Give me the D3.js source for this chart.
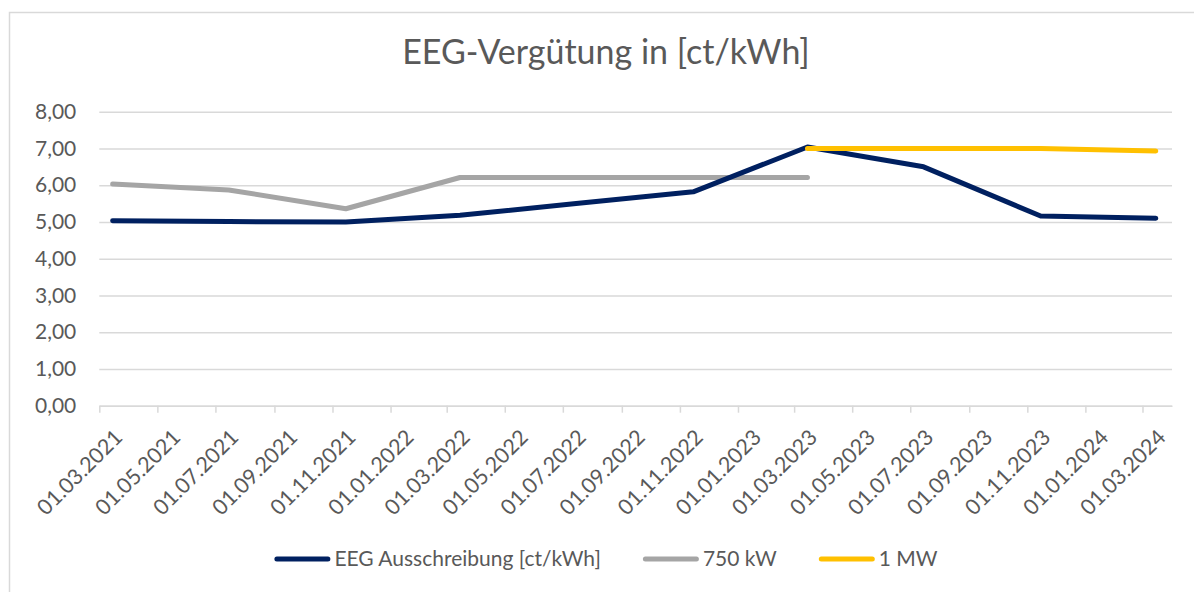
<!DOCTYPE html>
<html>
<head>
<meta charset="utf-8">
<script src="https://cdnjs.cloudflare.com/ajax/libs/d3/7.8.5/d3.min.js"></script>
<style>
  html, body { margin: 0; padding: 0; background: #fff; }
  #chart { width: 1194px; height: 592px; overflow: hidden; }
  text { font-family: Lato, "Open Sans", sans-serif; fill: #595959; }
</style>
</head>
<body>
<div id="chart"></div>
<script>
// values, one entry per tender date
const ausschreibungDates = ["15.03.2021", "15.07.2021", "15.11.2021", "15.03.2022", "15.07.2022",
                            "15.11.2022", "15.03.2023", "15.07.2023", "15.11.2023", "15.03.2024"];
const ausschreibungValues = [5.03, 5.01, 5.00, 5.18, 5.50, 5.82, 7.04, 6.50, 5.16, 5.10];

const kw750Dates = ["15.03.2021", "15.07.2021", "15.11.2021", "15.03.2022", "15.07.2022", "15.11.2022", "15.03.2023"];
const kw750Values = [6.03, 5.87, 5.36, 6.21, 6.21, 6.21, 6.21];

const mw1Dates = ["15.03.2023", "15.07.2023", "15.11.2023", "15.03.2024"];
const mw1Values = [7.00, 7.00, 7.00, 6.93];

const seriesNames = ["EEG Ausschreibung [ct/kWh]", "750 kW", "1 MW"];
const yTicks = [0, 1, 2, 3, 4, 5, 6, 7, 8];
const axisStart = "01.03.2021";
const axisEnd = "01.04.2024";
const title = "EEG-Vergütung in [ct/kWh]";

(function() {

  const width = 1194, height = 592;
  const margin = { left: 99.3, right: 1172, top: 111.7, bottom: 405.7 };
  const colors = ["#002060", "#a5a5a5", "#ffc000"];

  const parse = d3.timeParse("%d.%m.%Y");
  const fmtDate = d3.timeFormat("%d.%m.%Y");
  const de = d3.formatLocale({ decimal: ",", thousands: ".", grouping: [3], currency: ["", " €"] });
  const fmtNum = de.format(".2f");

  function zip(dates, values) {
    return dates.map((d, i) => ({ date: parse(d), value: values[i] }));
  }

  const series = [
    { name: seriesNames[0], color: colors[0], points: zip(ausschreibungDates, ausschreibungValues) },
    { name: seriesNames[1], color: colors[1], points: zip(kw750Dates, kw750Values) },
    { name: seriesNames[2], color: colors[2], points: zip(mw1Dates, mw1Values) }
  ];

  const svg = d3.select("#chart")
    .append("svg")
    .attr("width", width)
    .attr("height", height);

  // chart frame
  svg.append("rect")
    .attr("x", 9.5)
    .attr("y", 12.5)
    .attr("width", 1200)
    .attr("height", 600)
    .attr("fill", "none")
    .attr("stroke", "#d9d9d9")
    .attr("stroke-width", 1.5);

  svg.append("text")
    .attr("x", 606)
    .attr("y", 64)
    .attr("text-anchor", "middle")
    .style("font-size", "34px")
    .text(title);

  const x = d3.scaleTime()
    .domain([parse(axisStart), parse(axisEnd)])
    .range([margin.left, margin.right]);

  const y = d3.scaleLinear()
    .domain([0, 8])
    .range([margin.bottom, margin.top]);

  // gridlines + y labels
  const yAxis = svg.append("g")
    .attr("transform", "translate(" + margin.left + ",0)")
    .call(d3.axisLeft(y)
      .tickValues(yTicks)
      .tickSize(-(margin.right - margin.left))
      .tickPadding(23)
      .tickFormat(fmtNum));

  yAxis.select(".domain").remove();
  yAxis.selectAll("line")
    .attr("stroke", "#d9d9d9")
    .attr("stroke-width", 1.5);
  yAxis.selectAll("text")
    .style("font-size", "21px");

  // x axis
  const xAxis = svg.append("g")
    .attr("transform", "translate(0," + margin.bottom + ")")
    .call(d3.axisBottom(x)
      .ticks(d3.timeMonth.every(2))
      .tickSize(7)
      .tickSizeOuter(0)
      .tickFormat(fmtDate));

  xAxis.select(".domain")
    .attr("stroke", "#d9d9d9")
    .attr("stroke-width", 1.5);
  xAxis.selectAll("line")
    .attr("stroke", "#d9d9d9")
    .attr("stroke-width", 1.5);
  xAxis.selectAll("text")
    .attr("y", 0)
    .attr("dy", 0)
    .attr("text-anchor", "end")
    .attr("transform", "translate(24,33) rotate(-45)")
    .style("font-size", "21.5px");

  // lines (grey under navy, yellow on top)
  const line = d3.line()
    .x(d => x(d.date))
    .y(d => y(d.value));

  [series[1], series[0], series[2]].forEach(function(s) {
    svg.append("path")
      .datum(s.points)
      .attr("d", line)
      .attr("fill", "none")
      .attr("stroke", s.color)
      .attr("stroke-width", 5)
      .attr("stroke-linecap", "round")
      .attr("stroke-linejoin", "round");
  });

  // legend, laid out from the text widths and centred under the chart
  const legend = svg.append("g");
  let cx = 0;
  series.forEach(function(s, i) {
    const item = legend.append("g").attr("transform", "translate(" + cx + ",0)");
    item.append("line")
      .attr("x1", 2.5).attr("x2", 53.5)
      .attr("stroke", s.color)
      .attr("stroke-width", 5)
      .attr("stroke-linecap", "round");
    const t = item.append("text")
      .attr("x", 60)
      .attr("dy", "0.35em")
      .style("font-size", "21px")
      .text(s.name);
    cx += 60 + t.node().getComputedTextLength() + 42;
  });
  const legendWidth = cx - 42;
  legend.attr("transform", "translate(" + (606 - legendWidth / 2) + ",559)");

})();
</script>
</body>
</html>
